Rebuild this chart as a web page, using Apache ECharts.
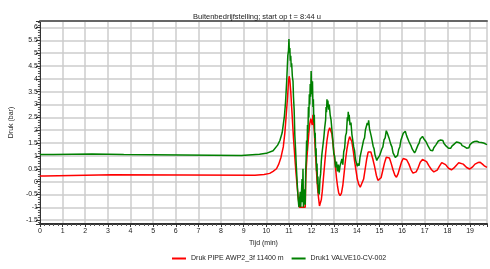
<!DOCTYPE html>
<html>
<head>
<meta charset="utf-8">
<script src="https://cdn.jsdelivr.net/npm/echarts@6/dist/echarts.min.js"></script>
<style>
  html, body { margin: 0; padding: 0; background: #fff; }
  #chart { width: 490px; height: 269px; }
</style>
</head>
<body>
<div id="chart"></div>
<script>
// series names
var seriesNames = ['Druk PIPE AWP2_3f 11400 m', 'Druk1 VALVE10-CV-002'];

// red: tijd (min) en druk (bar)
var redTime = [0, 0.2, 0.2, 3.2, 3.2, 9.5, 9.9, 10.15, 10.3, 10.45, 10.55, 10.65, 10.75, 10.82, 10.88, 10.94, 10.98, 11.01, 11.04, 11.08,
  11.12, 11.16, 11.2, 11.24, 11.28, 11.32, 11.36, 11.4, 11.44, 11.47, 11.72, 11.74, 11.76, 11.8, 11.84, 11.88, 11.92, 11.96, 12.0, 12.03,
  12.06, 12.09, 12.12, 12.15, 12.18, 12.21, 12.24, 12.28, 12.31, 12.35, 12.39, 12.43, 12.47, 12.52, 12.57, 12.62, 12.68, 12.74, 12.8, 12.85,
  12.9, 12.95, 13.0, 13.05, 13.1, 13.15, 13.2, 13.26, 13.32, 13.38, 13.44, 13.5, 13.56, 13.62, 13.68, 13.73, 13.78, 13.84, 13.9, 13.96,
  14.02, 14.08, 14.15, 14.22, 14.3, 14.37, 14.44, 14.5, 14.56, 14.62, 14.7, 14.78, 14.86, 14.93, 15.0, 15.07, 15.15, 15.22, 15.3, 15.37,
  15.44, 15.52, 15.6, 15.68, 15.75, 15.82, 15.9, 15.98, 16.05, 16.12, 16.2, 16.3, 16.4, 16.48, 16.55, 16.62, 16.7, 16.8, 16.9, 16.98,
  17.08, 17.18, 17.3, 17.4, 17.47, 17.55, 17.65, 17.75, 17.82, 17.92, 18.05, 18.18, 18.28, 18.4, 18.5, 18.58, 18.7, 18.85, 18.98, 19.1,
  19.22, 19.35, 19.45, 19.55, 19.65, 19.75];
var redValue = [0.22, 0.22, 0.27, 0.27, 0.24, 0.25, 0.28, 0.32, 0.4, 0.5, 0.68, 0.95, 1.35, 1.9, 2.6, 3.3, 3.9, 4.1, 3.95, 3.5,
  2.9, 2.3, 1.7, 1.2, 0.7, 0.25, -0.15, -0.55, -0.85, -1.0, -1.0, 0.0, 0.45, 1.0, 1.45, 1.9, 2.25, 2.45, 2.5, 2.2,
  2.6, 2.3, 1.95, 1.45, 0.95, 0.5, 0.05, -0.4, -0.65, -0.95, -0.95, -0.7, -0.4, 0.1, 0.6, 1.1, 1.6, 1.95, 2.1, 2.12,
  1.85, 1.45, 1.0, 0.6, 0.15, -0.2, -0.45, -0.55, -0.45, -0.15, 0.35, 0.85, 1.25, 1.55, 1.75, 1.72, 1.55, 1.2, 0.8, 0.45,
  0.1, -0.1, -0.22, -0.15, 0.1, 0.5, 0.9, 1.15, 1.22, 1.15, 0.9, 0.6, 0.25, 0.05, 0.02, 0.15, 0.45, 0.72, 0.95, 1.0,
  0.92, 0.7, 0.45, 0.25, 0.17, 0.3, 0.55, 0.78, 0.9, 0.92, 0.85, 0.68, 0.45, 0.33, 0.3, 0.38, 0.52, 0.75, 0.86, 0.87,
  0.78, 0.62, 0.46, 0.38, 0.37, 0.45, 0.6, 0.74, 0.75, 0.66, 0.52, 0.46, 0.52, 0.64, 0.73, 0.75, 0.68, 0.55, 0.49, 0.56,
  0.68, 0.74, 0.75, 0.68, 0.6, 0.55];

// green: tijd (min) en druk (bar)
var greenTime = [0, 0.6, 0.6, 2.3, 2.3, 3.7, 3.7, 8.9, 8.9, 9.7, 10.0, 10.3, 10.5, 10.6, 10.7, 10.8, 10.85, 10.9, 10.95, 10.98,
  11.0, 11.02, 11.04, 11.06, 11.08, 11.1, 11.12, 11.15, 11.18, 11.2, 11.23, 11.26, 11.29, 11.32, 11.35, 11.38, 11.41, 11.44, 11.48, 11.5,
  11.52, 11.56, 11.58, 11.6, 11.62, 11.64, 11.68, 11.7, 11.72, 11.74, 11.76, 11.78, 11.8, 11.82, 11.84, 11.86, 11.88, 11.9, 11.92, 11.94,
  11.96, 11.98, 12.0, 12.02, 12.04, 12.06, 12.08, 12.1, 12.12, 12.14, 12.16, 12.18, 12.2, 12.22, 12.24, 12.26, 12.28, 12.3, 12.32, 12.34,
  12.37, 12.4, 12.43, 12.46, 12.5, 12.54, 12.58, 12.62, 12.64, 12.66, 12.68, 12.7, 12.72, 12.75, 12.78, 12.82, 12.86, 12.9, 12.94, 12.98,
  13.02, 13.06, 13.1, 13.14, 13.18, 13.22, 13.26, 13.3, 13.34, 13.38, 13.42, 13.46, 13.5, 13.54, 13.58, 13.6, 13.62, 13.64, 13.66, 13.7,
  13.74, 13.78, 13.82, 13.86, 13.9, 13.94, 13.98, 14.02, 14.06, 14.1, 14.14, 14.18, 14.22, 14.26, 14.3, 14.34, 14.38, 14.42, 14.46, 14.5,
  14.52, 14.56, 14.6, 14.64, 14.68, 14.72, 14.76, 14.8, 14.84, 14.88, 14.92, 14.96, 15.0, 15.05, 15.1, 15.15, 15.2, 15.25, 15.3, 15.34,
  15.38, 15.42, 15.46, 15.5, 15.55, 15.6, 15.65, 15.7, 15.75, 15.8, 15.85, 15.9, 15.95, 16.0, 16.05, 16.1, 16.14, 16.2, 16.25, 16.3,
  16.35, 16.4, 16.45, 16.5, 16.55, 16.6, 16.65, 16.7, 16.75, 16.8, 16.85, 16.9, 16.95, 17.0, 17.05, 17.1, 17.15, 17.2, 17.25, 17.3,
  17.35, 17.4, 17.45, 17.5, 17.55, 17.6, 17.65, 17.7, 17.75, 17.8, 17.85, 17.9, 17.95, 18.0, 18.05, 18.1, 18.15, 18.2, 18.25, 18.3,
  18.35, 18.4, 18.45, 18.5, 18.55, 18.6, 18.65, 18.7, 18.75, 18.8, 18.85, 18.9, 18.95, 19.0, 19.05, 19.1, 19.15, 19.2, 19.25, 19.3,
  19.35, 19.4, 19.45, 19.5, 19.55, 19.6, 19.65, 19.7, 19.75];
var greenValue = [1.05, 1.05, 1.07, 1.07, 1.05, 1.05, 1.02, 1.02, 1.04, 1.06, 1.1, 1.2, 1.42, 1.6, 1.9, 2.55, 3.1, 3.9, 4.9, 5.1,
  5.55, 5.0, 5.2, 4.7, 4.9, 4.45, 4.6, 4.1, 3.9, 3.3, 2.8, 1.8, 1.3, 0.7, 0.2, -0.3, -0.7, -1.0, -1.0, -0.4,
  -1.0, -1.0, 0.1, -0.8, 0.5, -1.0, -1.0, -0.3, -0.9, 0.4, 0.9, 1.6, 1.2, 2.2, 1.9, 2.9, 2.5, 3.4, 3.0, 3.8,
  3.3, 4.3, 3.7, 3.4, 3.9, 2.9, 3.2, 2.3, 2.6, 1.7, 1.9, 1.0, 1.3, 0.4, 0.7, -0.1, 0.2, -0.45, -0.2, -0.5,
  0.1, 0.3, 0.8, 1.1, 1.4, 1.7, 2.1, 2.4, 2.9, 2.7, 3.2, 2.9, 3.15, 2.8, 3.0, 2.6, 2.4, 2.0, 1.6, 1.1,
  0.98, 0.55, 0.78, 0.4, 0.66, 0.36, 0.62, 0.58, 0.88, 0.66, 1.16, 1.3, 1.78, 1.9, 2.5, 2.35, 2.72, 2.5, 2.6, 2.2,
  2.3, 1.85, 1.78, 1.35, 1.2, 0.85, 0.92, 0.6, 0.7, 0.62, 0.95, 1.0, 1.28, 1.22, 1.62, 1.7, 2.02, 1.98, 2.28, 2.2,
  2.38, 2.05, 2.02, 1.75, 1.68, 1.38, 1.28, 1.05, 1.02, 0.82, 0.9, 0.84, 1.0, 0.98, 1.26, 1.35, 1.62, 1.7, 1.98, 1.9,
  1.92, 1.7, 1.66, 1.45, 1.35, 1.12, 1.06, 0.94, 1.0, 1.02, 1.25, 1.36, 1.62, 1.68, 1.88, 1.85, 1.96, 1.78, 1.74, 1.56,
  1.55, 1.38, 1.26, 1.24, 1.12, 1.2, 1.26, 1.42, 1.5, 1.66, 1.64, 1.76, 1.68, 1.7, 1.56, 1.52, 1.38, 1.34, 1.22, 1.24,
  1.2, 1.32, 1.3, 1.44, 1.46, 1.58, 1.54, 1.62, 1.58, 1.6, 1.48, 1.5, 1.38, 1.4, 1.3, 1.36, 1.3, 1.38, 1.36, 1.46,
  1.44, 1.54, 1.48, 1.52, 1.46, 1.48, 1.4, 1.44, 1.36, 1.38, 1.3, 1.32, 1.32, 1.44, 1.42, 1.52, 1.48, 1.56, 1.52, 1.57,
  1.5, 1.53, 1.48, 1.52, 1.47, 1.5, 1.44, 1.46, 1.44];

function pairs(t, v) {
  var out = [];
  for (var i = 0; i < t.length; i++) out.push([t[i], v[i]]);
  return out;
}

var chart = echarts.init(document.getElementById('chart'));
var font = 'Liberation Sans, Arial, sans-serif';

chart.setOption({
  animation: false,
  title: {
    text: 'Buitenbedrijfstelling; start op t = 8:44 u',
    left: 252, top: 8, textAlign: 'center',
    textStyle: { fontSize: 7.5, fontWeight: 'normal', color: '#222', fontFamily: font }
  },
  legend: {
    bottom: 2, left: 167,
    icon: 'rect', itemWidth: 14, itemHeight: 2, itemGap: 8,
    textStyle: { fontSize: 7, color: '#222', fontFamily: font },
    data: seriesNames
  },
  grid: { left: 39, right: 0, top: 21, bottom: 45 },
  xAxis: [{
    type: 'value', min: 0, max: 19.75, interval: 1,
    name: 'Tijd (min)', nameLocation: 'middle', nameGap: 15,
    nameTextStyle: { fontSize: 7, color: '#222', fontFamily: font },
    axisLine: { onZero: false, lineStyle: { color: '#333', width: 2 } },
    axisTick: { length: 3, lineStyle: { color: '#333' } },
    minorTick: { show: true, splitNumber: 5, length: 2, lineStyle: { color: '#555' } },
    axisLabel: {
      fontSize: 7, color: '#222', fontFamily: font, margin: 4,
      formatter: function (v) { return Math.abs(v - Math.round(v)) < 1e-6 ? String(Math.round(v)) : ''; }
    },
    splitLine: { show: true, lineStyle: { color: '#cccccc', width: 1.5 } }
  }, {
    type: 'value', min: 0, max: 19.75, position: 'top',
    axisLine: { show: true, onZero: false, lineStyle: { color: '#666', width: 2 } },
    axisTick: { show: false }, axisLabel: { show: false }, splitLine: { show: false }
  }],
  yAxis: {
    type: 'value', min: -1.65, max: 6.25, splitNumber: 16,
    name: 'Druk (bar)', nameLocation: 'middle', nameGap: 18,
    nameTextStyle: { fontSize: 7, color: '#222', fontFamily: font },
    axisLine: { show: true, onZero: false, lineStyle: { color: '#333', width: 1 } },
    axisTick: { length: 4, lineStyle: { color: '#333' } },
    minorTick: { show: true, splitNumber: 5, length: 2, lineStyle: { color: '#555' } },
    axisLabel: {
      fontSize: 7, color: '#222', fontFamily: font, margin: 2,
      formatter: function (v) {
        var k = v * 2;
        return Math.abs(k - Math.round(k)) < 1e-6 ? String(Math.round(k) / 2) : '';
      }
    },
    splitLine: { show: true, lineStyle: { color: '#cccccc', width: 1.5 } }
  },
  series: [{
    name: seriesNames[0], type: 'line', symbol: 'none',
    lineStyle: { color: '#ff0000', width: 1.5 }, itemStyle: { color: '#ff0000' },
    data: pairs(redTime, redValue)
  }, {
    name: seriesNames[1], type: 'line', symbol: 'none',
    lineStyle: { color: '#008000', width: 1.5 }, itemStyle: { color: '#008000' },
    data: pairs(greenTime, greenValue)
  }]
});
</script>
</body>
</html>
